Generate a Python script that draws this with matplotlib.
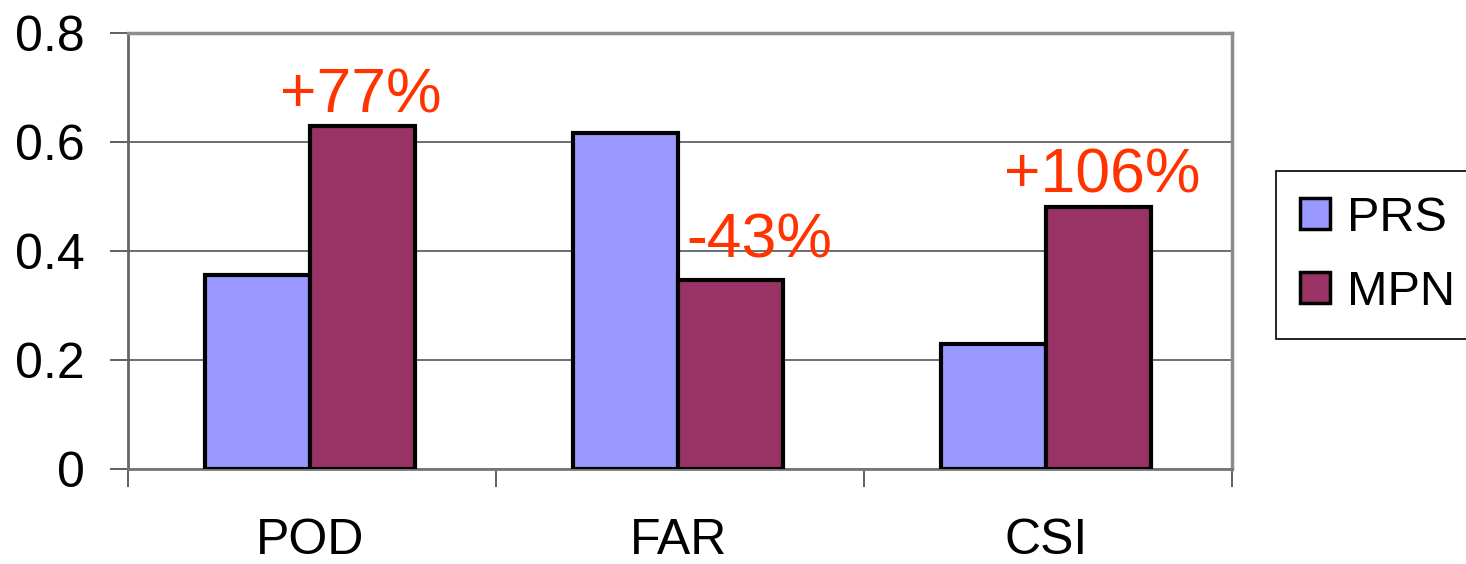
import matplotlib
matplotlib.use('Agg')
from matplotlib import pyplot as plt
import numpy as np

plt.rcParams['font.family'] = ['Liberation Sans', 'DejaVu Sans']

categories = ['POD', 'FAR', 'CSI']
prs = [0.356, 0.617, 0.229]
mpn = [0.629, 0.347, 0.481]
changes = ['+77%', '-43%', '+106%']

fig = plt.figure(figsize=(14.66, 5.64), dpi=100)
ax = fig.add_axes([0.0873, 0.1684, 0.7530, 0.7731])

x = np.arange(len(categories)) + 0.495
w = 0.285
ax.bar(x - w / 2, prs, w, color='#9999FF', edgecolor='black', linewidth=3, label='PRS', zorder=3)
ax.bar(x + w / 2, mpn, w, color='#993366', edgecolor='black', linewidth=3, label='MPN', zorder=3)

# percentage change labels above MPN bars
offsets = [(-1, 10), (21, 16), (3, 10)]
for xi, v, t, off in zip(x, mpn, changes, offsets):
    ax.annotate(t, (xi + w / 2, v), xytext=off, textcoords='offset points',
                ha='center', va='baseline', color='#FF3300', fontsize=45, zorder=4)

ax.set_xlim(0, 3)
ax.set_ylim(0, 0.8)
ax.set_yticks([0, 0.2, 0.4, 0.6, 0.8])
ax.set_yticklabels(['0', '0.2', '0.4', '0.6', '0.8'])
ax.yaxis.grid(True, color='#555555', linewidth=1.2, zorder=0)
ax.set_xticks(x)
ax.set_xticklabels(categories)
ax.set_xticks([0, 1, 2, 3], minor=True)
ax.tick_params(axis='x', which='major', length=0, pad=35, labelsize=36)
ax.tick_params(axis='x', which='minor', length=13, width=1.2, direction='out', color='#444444')
ax.tick_params(axis='y', length=13, width=1.2, direction='out', pad=18, labelsize=36, color='#444444')

for s in ['top', 'right']:
    ax.spines[s].set_color('#8c8c8c')
    ax.spines[s].set_linewidth(2.5)
ax.spines['left'].set_color('#666666')
ax.spines['left'].set_linewidth(2)
ax.spines['bottom'].set_color('#777777')
ax.spines['bottom'].set_linewidth(2)

leg = ax.legend(loc='center left', bbox_to_anchor=(1.04, 0.49), fontsize=35, frameon=True,
                fancybox=False, edgecolor='black', framealpha=1, handlelength=0.6, handleheight=0.6,
                handletextpad=0.35, labelspacing=0.6, borderpad=0.5, borderaxespad=0)
leg.get_frame().set_linewidth(1.2)
leg._legend_box.sep = 0
for h in leg.legend_handles:
    h.set_linewidth(2.5)

fig.savefig('out.png', dpi=100)
